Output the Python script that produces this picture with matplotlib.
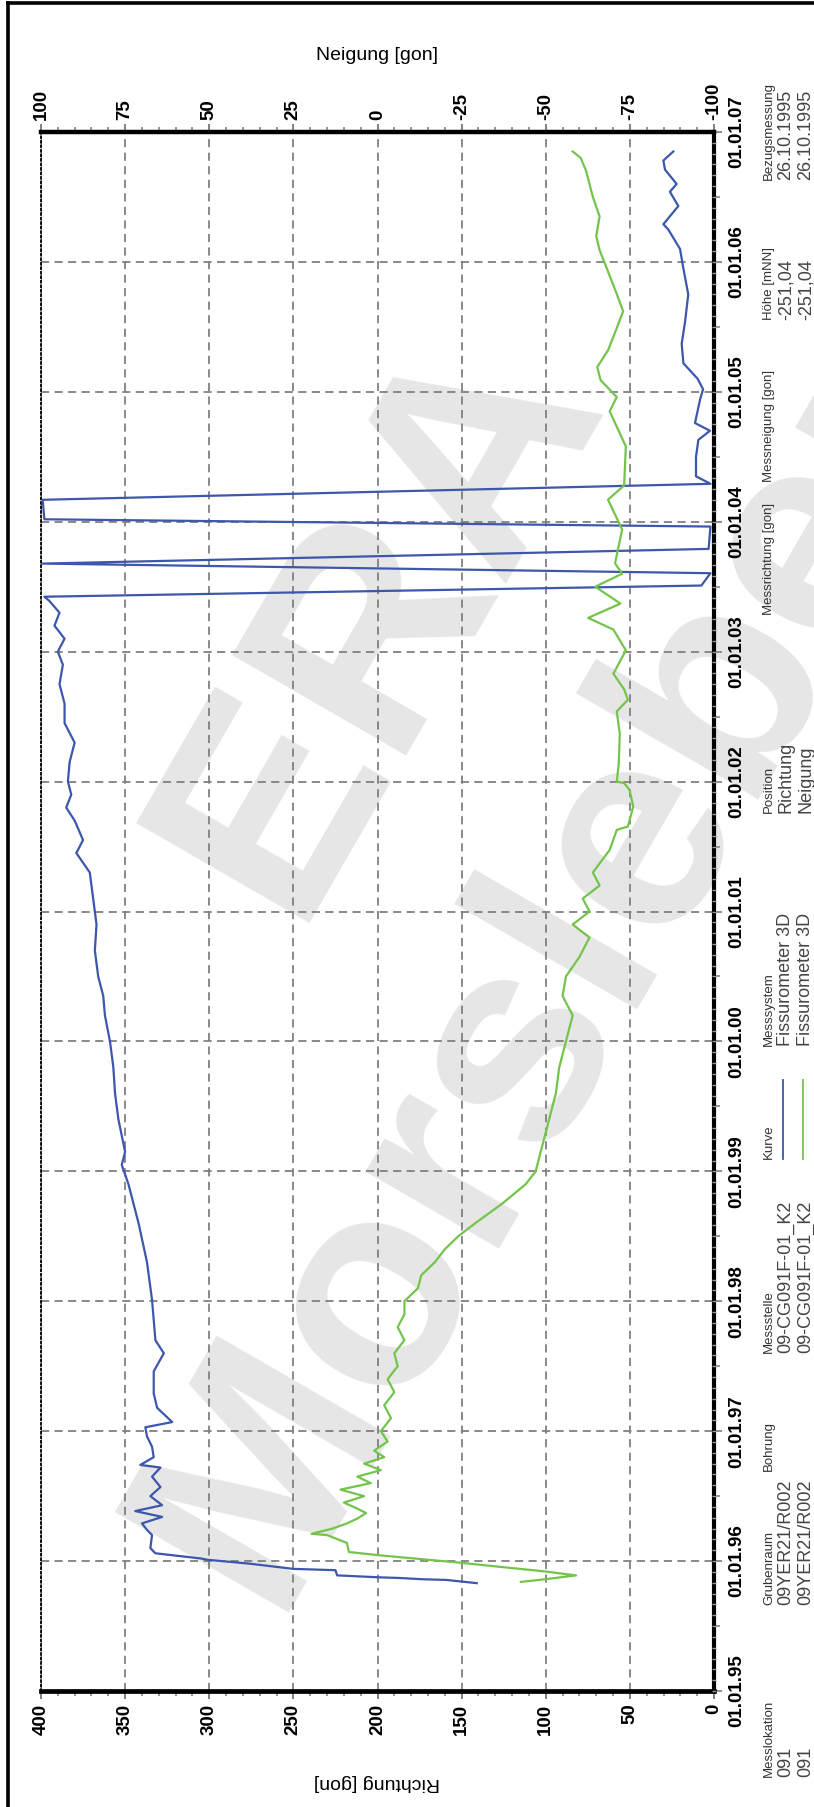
import matplotlib
matplotlib.use("Agg")
import matplotlib.pyplot as plt
from matplotlib.lines import Line2D
import numpy as np

plt.rcParams['font.family'] = ['Liberation Sans', 'DejaVu Sans']

# ---------------- data (decimal years) ----------------
blue_years = [1995.83, 1995.855, 1995.86, 1995.87, 1995.875, 1995.89, 1995.93, 1995.94, 1995.98, 1996.01,
              1996.02, 1996.06, 1996.10, 1996.20, 1996.24, 1996.29, 1996.34, 1996.385, 1996.43, 1996.50,
              1996.57, 1996.65, 1996.72, 1996.74, 1996.80, 1996.88, 1996.96, 1997.03, 1997.07, 1997.18,
              1997.29, 1997.46, 1997.60, 1997.70, 1998.01, 1998.3, 1998.6, 1998.9, 1999.05, 1999.15,
              1999.4, 1999.6, 1999.8, 2000.0, 2000.2, 2000.35, 2000.5, 2000.7, 2000.9, 2001.1,
              2001.3, 2001.45, 2001.55, 2001.7, 2001.8, 2001.9, 2002.0, 2002.15, 2002.3, 2002.45,
              2002.6, 2002.75, 2002.9, 2003.0, 2003.1, 2003.2, 2003.3, 2003.39, 2003.423, 2003.509,
              2003.604, 2003.678, 2003.791, 2003.963, 2004.019, 2004.169, 2004.292, 2004.35, 2004.50, 2004.63,
              2004.70, 2004.76, 2004.94, 2005.02, 2005.10, 2005.22, 2005.37, 2005.54, 2005.75, 2005.95,
              2006.10, 2006.25, 2006.29, 2006.43, 2006.54, 2006.60, 2006.71, 2006.78, 2006.85]
blue_vals = [141, 159, 173, 187, 199, 224, 225, 250, 276, 301,
             305, 332, 335, 334, 337, 340, 328, 344, 328, 335,
             329, 334, 329, 341, 333, 334, 337, 338, 322, 331,
             333, 333, 327, 332, 334, 337, 342, 348, 352, 350,
             354, 356, 357, 359, 362, 363, 366, 368, 367, 369,
             371, 379, 375, 380, 385, 382, 384, 383, 380, 386,
             386, 389, 387, 390, 386, 392, 389, 395, 398, 7.5,
             2.1, 399, 3.2, 2.1, 398, 399, 2.1, 10.7, 10.7, 9.3,
             2.4, 11.3, 8.3, 6.5, 9.7, 18.2, 19.2, 17.2, 15.3, 18.2,
             20.2, 27.2, 30.1, 21.2, 26.2, 22.2, 29.1, 30.1, 24.2]

green_years = [1995.84, 1995.86, 1995.89, 1995.92, 1995.99, 1996.045, 1996.07, 1996.14, 1996.20, 1996.21,
               1996.25, 1996.29, 1996.33, 1996.37, 1996.41, 1996.45, 1996.50, 1996.55, 1996.60, 1996.65,
               1996.70, 1996.75, 1996.80, 1996.85, 1996.92, 1997.0, 1997.1, 1997.2, 1997.3, 1997.4,
               1997.5, 1997.6, 1997.7, 1997.8, 1997.9, 1998.0, 1998.1, 1998.2, 1998.3, 1998.4,
               1998.5, 1998.6, 1998.75, 1998.9, 1999.0, 1999.2, 1999.4, 1999.6, 1999.8, 2000.0,
               2000.2, 2000.35, 2000.5, 2000.65, 2000.8, 2000.9, 2001.0, 2001.1, 2001.2, 2001.3,
               2001.474, 2001.628, 2001.654, 2001.808, 2001.936, 2001.988, 2002.0, 2002.14, 2002.37, 2002.54,
               2002.63, 2002.71, 2002.83, 2003.01, 2003.17, 2003.26, 2003.37, 2003.50, 2003.60, 2003.68,
               2003.94, 2004.17, 2004.28, 2004.58, 2004.85, 2004.96, 2005.09, 2005.19, 2005.32, 2005.45,
               2005.62, 2005.76, 2005.96, 2006.09, 2006.2, 2006.35, 2006.5, 2006.6, 2006.7, 2006.8, 2006.85]
green_vals = [-42.6, -49.8, -59, -49.8, -23.6, -0.4, 8.5, 9.1, 15, 19.6,
              13.4, 9.1, 5.8, 3.4, 6.5, 10, 4, 11, 2, 6,
              -1, 4, -2, 1, -3, -1, -4, -2, -5, -3,
              -6, -5, -8, -6, -8, -8, -12, -13, -17, -20,
              -24, -29, -37, -44, -47, -49, -51, -53, -54, -56,
              -58, -55, -56, -60, -63, -58, -63, -61, -66, -64,
              -69, -71.1, -74.4, -76.0, -74.9, -73.3, -71.1, -71.7, -72.0, -71.1,
              -74.4, -73.3, -70.1, -73.8, -70.1, -62.6, -72.2, -64.7, -72.7, -70.6,
              -72.7, -68.5, -73.3, -73.8, -69.0, -71.1, -66.3, -65.3, -68.5, -70.5,
              -73, -71, -68, -66, -65, -66, -64, -63, -62, -60.4, -58]

years = list(range(1995, 2008))
year_labels = ["01.01.%02d" % (y % 100) for y in years]
richtung_ticks = [0, 50, 100, 150, 200, 250, 300, 350, 400]
neigung_ticks = [-100, -75, -50, -25, 0, 25, 50, 75, 100]

legend_headers = ["Messlokation", "Grubenraum", "Bohrung", "Messstelle", "Kurve", "Messsystem",
                  "Position", "Messrichtung [gon]", "Messneigung [gon]", "Höhe [mNN]", "Bezugsmessung"]
legend_row1 = ["091", "09YER21/R002", "", "09-CG091F-01_K2", None, "Fissurometer 3D",
               "Richtung", "", "", "-251,04", "26.10.1995"]
legend_row2 = ["091", "09YER21/R002", "", "09-CG091F-01_K2", None, "Fissurometer 3D",
               "Neigung", "", "", "-251,04", "26.10.1995"]
legend_start_y = [1777, 1605, 1471, 1353, 1159, 1046, 813, 615, 482, 320, 180]

BLUE = "#3c57ab"
GREEN = "#74c44c"
GRID = "#808080"

W, H = 814, 1807
fig = plt.figure(figsize=(W / 100, H / 100), dpi=100)
fig.patch.set_facecolor("white")

def fx(px):
    return px / W

def fy(py):
    return 1 - py / H

# watermark
wm_kw = dict(color="#e6e6e6", fontweight="bold", rotation=60,
             rotation_mode="anchor", zorder=-10, family="Liberation Sans")
fig.text(fx(225), fy(885), "ERA", ha="left", va="center", fontsize=210, **wm_kw)
fig.text(fx(205), fy(1575), "Morsleben", ha="left", va="center", fontsize=210, **wm_kw)

ax_l, ax_r, ax_t, ax_b = 41, 714, 132, 1691
ax = fig.add_axes([fx(ax_l), fy(ax_b), (ax_r - ax_l) / W, (ax_b - ax_t) / H])
ax.patch.set_alpha(0)
ax.set_xlim(400, 0)
ax.set_ylim(1995, 2007)

ax.plot(blue_vals, blue_years, color=BLUE, lw=1.6, zorder=4)

ax2 = ax.twiny()
ax2.set_xlim(100, -100)
ax2.plot(green_vals, green_years, color=GREEN, lw=1.6, zorder=3)

# grid
ax.set_axisbelow(True)
ax.grid(True, which="major", color=GRID, lw=1.3, ls=(0, (4.5, 3)))

# Richtung ticks (bottom)
ax.set_xticks(richtung_ticks, labels=[str(v) for v in richtung_ticks],
              rotation=90, fontweight="bold", fontsize=13.5)
ax.set_xticks(np.arange(0, 401, 10), minor=True)
ax.tick_params(axis="x", which="major", direction="out", length=6, width=1.3, color="#777777", pad=3)
ax.tick_params(axis="x", which="minor", direction="out", length=3.5, width=1.2, color="#888888")

# Time ticks (right)
ax.yaxis.tick_right()
ax.set_yticks(years, labels=year_labels, rotation=90, fontweight="bold", fontsize=13.5, va="center")
ax.set_yticks(np.arange(1995.5, 2007, 1.0), minor=True)
ax.tick_params(axis="y", which="major", direction="out", length=6, width=1.3, color="#888888", pad=4)
ax.tick_params(axis="y", which="minor", direction="out", length=4, width=1.2, color="#888888")

# Neigung ticks (top)
ax2.set_xticks(neigung_ticks, labels=[str(v) for v in neigung_ticks],
               rotation=90, fontweight="bold", fontsize=13.5)
ax2.set_xticks(np.arange(-100, 101, 5), minor=True)
ax2.tick_params(axis="x", which="major", direction="out", length=6, width=1.3, color="#777777", pad=3)
ax2.tick_params(axis="x", which="minor", direction="out", length=3.5, width=1.2, color="#888888")

# spines
for sp in ax2.spines.values():
    sp.set_visible(False)
ax2.spines["top"].set_visible(True)
ax2.spines["top"].set_linewidth(3.2)
ax2.spines["top"].set_color("black")
ax.spines["top"].set_visible(False)
ax.spines["bottom"].set_linewidth(3.4)
ax.spines["bottom"].set_color("black")
ax.spines["right"].set_linewidth(3.0)
ax.spines["right"].set_color("black")
ax.spines["left"].set_linewidth(1.3)
ax.spines["left"].set_linestyle((0, (1, 1.5)))
ax.spines["left"].set_color("black")

# hatched look on the time axis line (monthly marks)
month_pos = np.arange(1995, 2007.001, 1 / 12)
ax.plot(np.full_like(month_pos, 0.0), month_pos, ls="none", marker="_", ms=3, mew=1.0,
        color="#9a9a9a", zorder=6, clip_on=False)

# axis titles
fig.text(fx(377), fy(55), "Neigung [gon]", ha="center", va="center", fontsize=14,
         family=["Liberation Sans Narrow", "Liberation Sans"])
fig.text(fx(377), fy(1782), "Richtung [gon]", ha="center", va="center", fontsize=14, rotation=180,
         family=["Liberation Sans Narrow", "Liberation Sans"])

# outer frame
fig.add_artist(Line2D([fx(8), fx(8)], [0, fy(3)], color="black", lw=2.6))
fig.add_artist(Line2D([fx(8), 1], [fy(3), fy(3)], color="black", lw=2.6))

# legend block (rotated)
hx, r1x, r2x = 769, 786, 806
for i, head in enumerate(legend_headers):
    y0 = legend_start_y[i]
    fig.text(fx(hx), fy(y0), head, rotation=90, ha="center", va="bottom", fontsize=9.5, color="#333333",
             family=["Liberation Sans Narrow", "Liberation Sans"])
    for xx, vals, col in ((r1x, legend_row1, BLUE), (r2x, legend_row2, GREEN)):
        v = vals[i]
        if v is None:
            fig.add_artist(Line2D([fx(xx - 3), fx(xx - 3)], [fy(y0), fy(y0 - 79)], color=col, lw=1.3))
        elif v:
            fig.text(fx(xx), fy(y0), v, rotation=90, ha="center", va="bottom", fontsize=13, color="#444444")

fig.savefig("out.png", dpi=100, facecolor="white")
